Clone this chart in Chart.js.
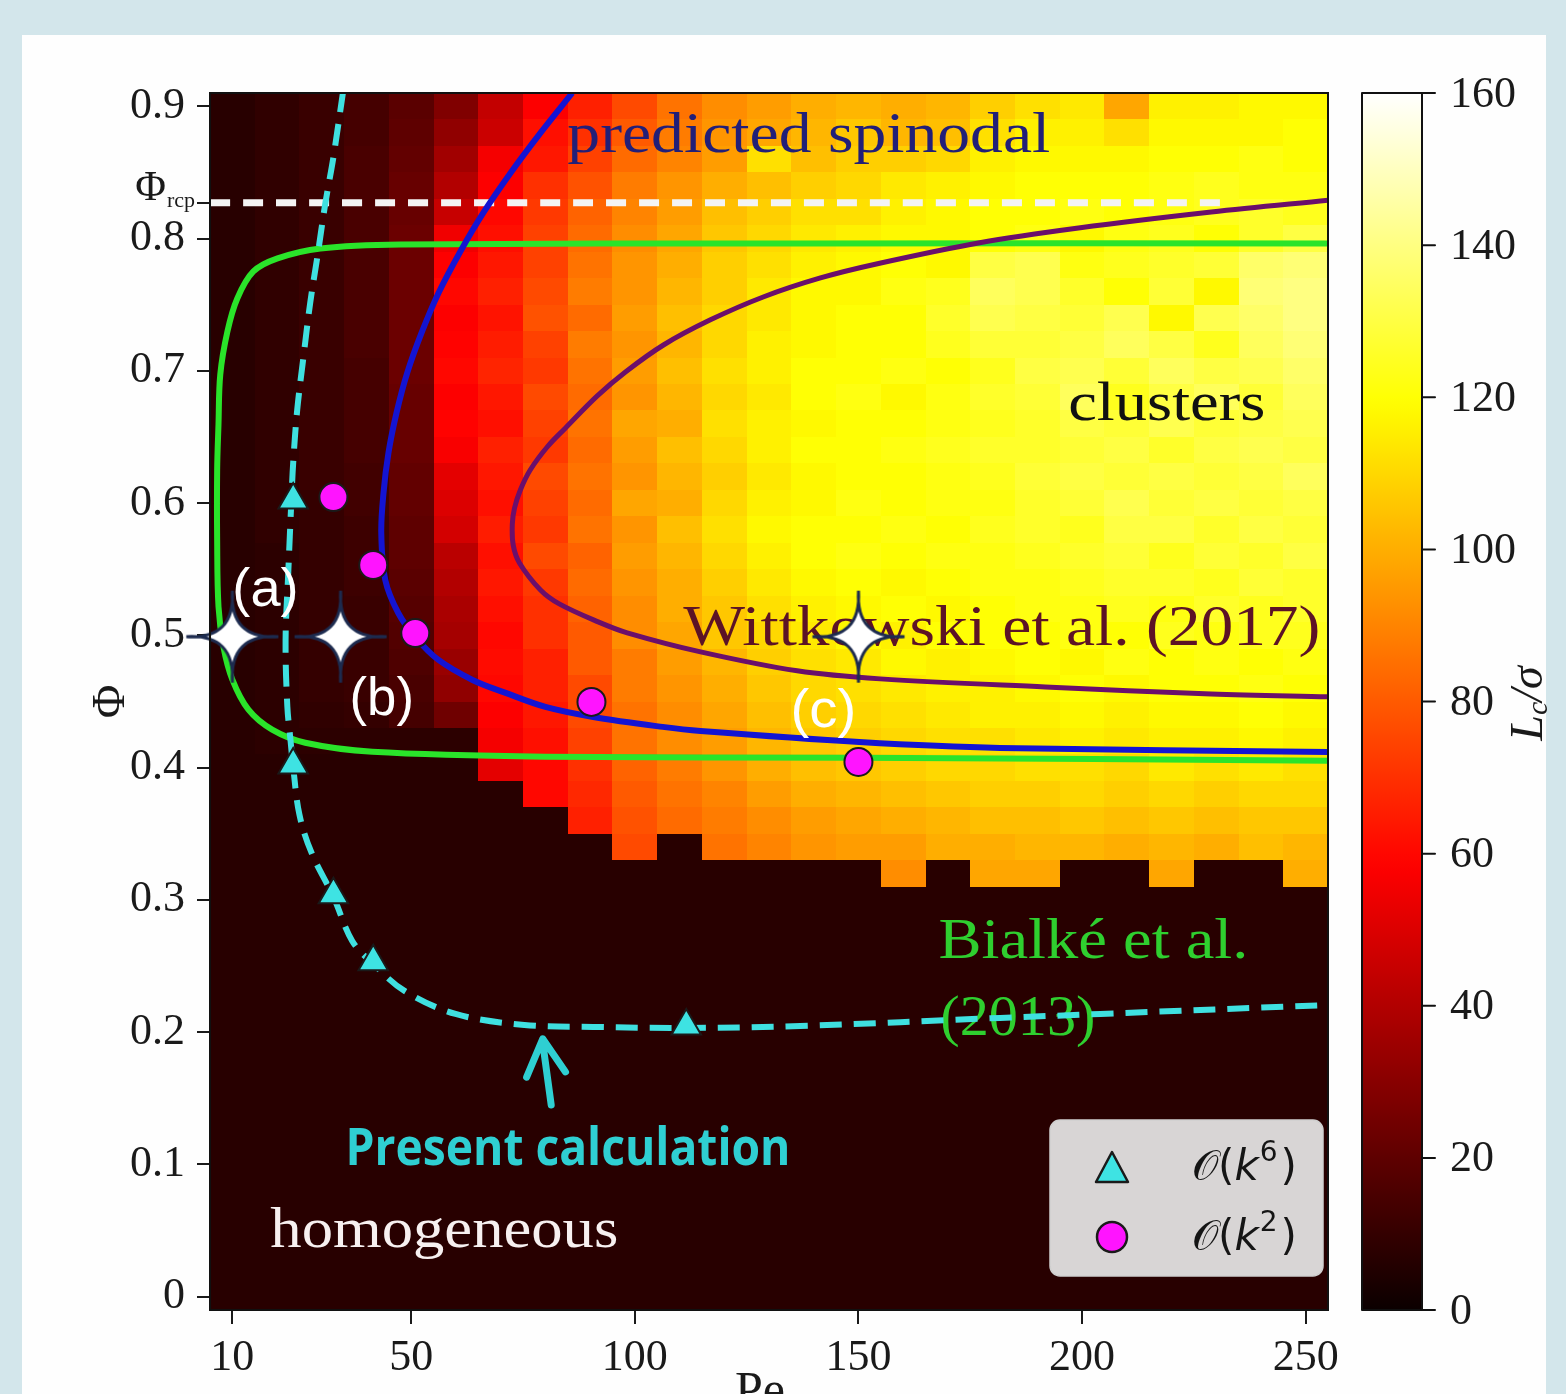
<!DOCTYPE html>
<html>
<head>
<meta charset="utf-8">
<script src="https://cdn.jsdelivr.net/npm/chart.js@4.4.1/dist/chart.umd.min.js"></script>
<style>
  html, body { margin: 0; padding: 0; background: #d3e6eb; overflow: hidden; }
  #card { position: absolute; left: 22px; top: 35px; width: 1524px; height: 1380px; background: #fefefe; }
  #phaseChart { position: absolute; left: 0; top: 0; }
</style>
</head>
<body>
<div id="card"></div>
<canvas id="phaseChart" width="1566" height="1394"></canvas>
<script>
// Axis ticks
const peTicks = [10, 50, 100, 150, 200, 250];
const phiTicks = [0, 0.1, 0.2, 0.3, 0.4, 0.5, 0.6, 0.7, 0.8, 0.9];
const lcTicks = [0, 20, 40, 60, 80, 100, 120, 140, 160];
const rcpPhi = 0.827;

// Heatmap grid: column centres (Pe), row centres (Phi, top to bottom), Lc/sigma values
const peCols = [10, 20, 30, 40, 50, 60, 70, 80, 90, 100, 110, 120, 130, 140, 150, 160, 170, 180, 190, 200, 210, 220, 230, 240, 250];
const phiRows = [0.90, 0.88, 0.86, 0.84, 0.82, 0.80, 0.78, 0.76, 0.74, 0.72, 0.70, 0.68, 0.66, 0.64, 0.62, 0.60,
                 0.58, 0.56, 0.54, 0.52, 0.50, 0.48, 0.46, 0.44, 0.42, 0.40, 0.38, 0.36, 0.34, 0.32, 0.30, 0.28,
                 0.26, 0.24, 0.22, 0.20, 0.18, 0.16, 0.14, 0.12, 0.10, 0.08, 0.06, 0.04, 0.02, 0.00];
const lcRows = [
  [7, 9, 11, 14, 19, 28, 44, 58, 66, 76, 86, 92, 96, 100, 102, 100, 102, 108, 112, 114, 98, 116, 116, 118, 118],
  [7, 9, 11, 14, 20, 32, 46, 62, 70, 80, 88, 94, 98, 102, 106, 102, 104, 112, 116, 116, 112, 118, 118, 118, 120],
  [7, 9, 11, 15, 21, 36, 56, 64, 74, 84, 90, 96, 112, 104, 108, 108, 110, 116, 118, 118, 118, 120, 120, 122, 120],
  [7, 9, 11, 15, 22, 40, 58, 70, 78, 88, 94, 100, 104, 108, 110, 114, 116, 118, 120, 120, 120, 122, 124, 122, 122],
  [7, 9, 11, 15, 22, 45, 60, 72, 82, 90, 96, 104, 108, 112, 112, 116, 118, 120, 120, 122, 120, 122, 124, 126, 124],
  [7, 9, 11, 15, 23, 55, 62, 74, 84, 92, 98, 106, 110, 114, 116, 118, 118, 120, 122, 118, 122, 124, 120, 126, 130],
  [7, 9, 11, 15, 23, 58, 64, 74, 86, 94, 100, 108, 112, 116, 118, 120, 118, 130, 132, 122, 124, 126, 128, 136, 138],
  [7, 9, 11, 15, 23, 60, 66, 76, 88, 94, 102, 108, 114, 118, 118, 122, 124, 134, 132, 126, 120, 128, 118, 138, 140],
  [7, 9, 11, 15, 23, 58, 63, 78, 84, 96, 104, 110, 114, 118, 120, 120, 126, 132, 130, 128, 132, 118, 132, 136, 140],
  [7, 9, 11, 15, 23, 59, 65, 74, 88, 94, 102, 110, 116, 118, 120, 120, 124, 128, 128, 130, 134, 130, 124, 134, 138],
  [7, 9, 11, 14, 23, 60, 67, 72, 86, 96, 104, 112, 116, 120, 120, 122, 120, 124, 130, 132, 128, 134, 130, 132, 136],
  [7, 9, 11, 14, 22, 58, 64, 76, 84, 94, 102, 110, 114, 120, 122, 118, 122, 126, 128, 134, 124, 130, 134, 128, 134],
  [7, 9, 11, 14, 22, 59, 62, 74, 86, 98, 100, 112, 116, 118, 120, 120, 122, 124, 126, 130, 128, 132, 128, 130, 132],
  [7, 9, 11, 14, 22, 57, 66, 72, 84, 96, 104, 110, 116, 120, 120, 122, 124, 126, 126, 128, 130, 126, 130, 132, 130],
  [7, 9, 11, 13, 21, 52, 64, 76, 86, 94, 102, 108, 114, 118, 120, 120, 122, 124, 128, 130, 128, 130, 128, 130, 134],
  [7, 9, 10, 13, 21, 50, 62, 74, 84, 98, 100, 110, 116, 118, 122, 120, 122, 122, 126, 128, 132, 128, 130, 128, 130],
  [7, 9, 10, 12, 20, 48, 65, 72, 86, 94, 104, 112, 118, 120, 120, 122, 120, 124, 126, 124, 130, 130, 126, 130, 128],
  [7, 8, 10, 12, 20, 42, 62, 76, 82, 96, 102, 110, 116, 120, 122, 120, 122, 122, 124, 126, 128, 124, 128, 126, 130],
  [7, 8, 10, 12, 19, 40, 64, 72, 84, 94, 100, 108, 114, 118, 120, 118, 120, 122, 122, 124, 126, 126, 124, 128, 126],
  [7, 8, 10, 11, 18, 38, 62, 70, 82, 92, 100, 106, 112, 116, 118, 120, 118, 120, 122, 122, 124, 122, 126, 124, 126],
  [7, 8, 10, 11, 17, 37, 60, 70, 80, 92, 98, 106, 110, 114, 118, 116, 120, 120, 120, 122, 120, 124, 122, 124, 124],
  [7, 8, 10, 11, 16, 34, 61, 66, 80, 88, 96, 102, 108, 112, 114, 118, 116, 118, 120, 118, 122, 120, 122, 120, 122],
  [7, 8, 10, 11, 15, 32, 60, 66, 76, 88, 94, 100, 106, 110, 112, 114, 116, 116, 118, 120, 118, 120, 120, 122, 120],
  [7, 8, 9, 10, 14, 24, 58, 64, 76, 86, 92, 98, 104, 108, 110, 112, 114, 116, 116, 118, 116, 118, 118, 120, 118],
  [7, 8, 8, 8, 8, 8, 56, 62, 74, 86, 92, 96, 102, 106, 108, 110, 112, 112, 114, 116, 114, 116, 116, 118, 116],
  [7, 7, 7, 7, 7, 7, 52, 60, 70, 82, 88, 94, 100, 104, 106, 108, 110, 110, 112, 112, 110, 114, 112, 114, 112],
  [7, 7, 7, 7, 7, 7, 7, 60, 68, 80, 86, 90, 96, 100, 102, 104, 106, 108, 108, 110, 108, 110, 108, 110, 110],
  [7, 7, 7, 7, 7, 7, 7, 7, 66, 78, 84, 88, 92, 96, 98, 100, 102, 104, 104, 106, 104, 106, 104, 106, 106],
  [7, 7, 7, 7, 7, 7, 7, 7, 7, 76, 7, 86, 90, 94, 96, 96, 100, 100, 102, 102, 100, 102, 100, 104, 102],
  [7, 7, 7, 7, 7, 7, 7, 7, 7, 7, 7, 7, 7, 7, 7, 92, 7, 98, 98, 7, 7, 98, 7, 7, 100],
  [7, 7, 7, 7, 7, 7, 7, 7, 7, 7, 7, 7, 7, 7, 7, 7, 7, 7, 7, 7, 7, 7, 7, 7, 7],
  [7, 7, 7, 7, 7, 7, 7, 7, 7, 7, 7, 7, 7, 7, 7, 7, 7, 7, 7, 7, 7, 7, 7, 7, 7],
  [7, 7, 7, 7, 7, 7, 7, 7, 7, 7, 7, 7, 7, 7, 7, 7, 7, 7, 7, 7, 7, 7, 7, 7, 7],
  [7, 7, 7, 7, 7, 7, 7, 7, 7, 7, 7, 7, 7, 7, 7, 7, 7, 7, 7, 7, 7, 7, 7, 7, 7],
  [7, 7, 7, 7, 7, 7, 7, 7, 7, 7, 7, 7, 7, 7, 7, 7, 7, 7, 7, 7, 7, 7, 7, 7, 7],
  [7, 7, 7, 7, 7, 7, 7, 7, 7, 7, 7, 7, 7, 7, 7, 7, 7, 7, 7, 7, 7, 7, 7, 7, 7],
  [7, 7, 7, 7, 7, 7, 7, 7, 7, 7, 7, 7, 7, 7, 7, 7, 7, 7, 7, 7, 7, 7, 7, 7, 7],
  [7, 7, 7, 7, 7, 7, 7, 7, 7, 7, 7, 7, 7, 7, 7, 7, 7, 7, 7, 7, 7, 7, 7, 7, 7],
  [7, 7, 7, 7, 7, 7, 7, 7, 7, 7, 7, 7, 7, 7, 7, 7, 7, 7, 7, 7, 7, 7, 7, 7, 7],
  [7, 7, 7, 7, 7, 7, 7, 7, 7, 7, 7, 7, 7, 7, 7, 7, 7, 7, 7, 7, 7, 7, 7, 7, 7],
  [7, 7, 7, 7, 7, 7, 7, 7, 7, 7, 7, 7, 7, 7, 7, 7, 7, 7, 7, 7, 7, 7, 7, 7, 7],
  [7, 7, 7, 7, 7, 7, 7, 7, 7, 7, 7, 7, 7, 7, 7, 7, 7, 7, 7, 7, 7, 7, 7, 7, 7],
  [7, 7, 7, 7, 7, 7, 7, 7, 7, 7, 7, 7, 7, 7, 7, 7, 7, 7, 7, 7, 7, 7, 7, 7, 7],
  [7, 7, 7, 7, 7, 7, 7, 7, 7, 7, 7, 7, 7, 7, 7, 7, 7, 7, 7, 7, 7, 7, 7, 7, 7],
  [7, 7, 7, 7, 7, 7, 7, 7, 7, 7, 7, 7, 7, 7, 7, 7, 7, 7, 7, 7, 7, 7, 7, 7, 7],
  [7, 7, 7, 7, 7, 7, 7, 7, 7, 7, 7, 7, 7, 7, 7, 7, 7, 7, 7, 7, 7, 7, 7, 7, 7]
];

// Curves (Pe, Phi)
const bialkePe  = [255.1, 137.0, 47.6, 29.7, 20.1, 14.7, 11.1, 8.9, 7.3, 6.9, 6.6, 6.6, 6.9, 8.0, 10.0, 13.6, 18.9, 26.3, 41.3, 80.0, 150.2, 255.1];
const bialkePhi = [0.7963, 0.7963, 0.7955, 0.7925, 0.7850, 0.7751, 0.7547, 0.7298, 0.6973, 0.6595, 0.6250, 0.5720, 0.5217, 0.4914, 0.4665, 0.4438, 0.4287, 0.4188, 0.4120, 0.4083, 0.4075, 0.4053];
const spinPe  = [86.0, 78.9, 72.2, 66.1, 60.8, 56.1, 52.3, 49.1, 46.7, 44.9, 43.8, 43.3, 44.2, 47.1, 50.9, 56.1, 63.7, 71.1, 80.0, 90.7, 106.2, 114.7, 150.2, 181.7, 255.1];
const spinPhi = [0.9100, 0.8798, 0.8495, 0.8193, 0.7891, 0.7588, 0.7286, 0.6984, 0.6681, 0.6379, 0.6077, 0.5774, 0.5418, 0.5169, 0.4987, 0.4814, 0.4663, 0.4565, 0.4459, 0.4383, 0.4308, 0.4277, 0.4194, 0.4149, 0.4118];
const wittPe  = [255.5, 228.9, 199.2, 176.8, 154.5, 141.5, 128.7, 116.9, 106.4, 97.9, 91.6, 84.5, 80.4, 76.6, 74.4, 73.1, 72.6, 72.8, 74.2, 78.9, 83.1, 91.8, 98.3, 114.7, 136.3, 154.9, 191.8, 228.9, 255.5];
const wittPhi = [0.8291, 0.8200, 0.8079, 0.7966, 0.7811, 0.7702, 0.7558, 0.7385, 0.7195, 0.6991, 0.6810, 0.6568, 0.6424, 0.6250, 0.6099, 0.5963, 0.5842, 0.5683, 0.5547, 0.5343, 0.5238, 0.5102, 0.5019, 0.4875, 0.4732, 0.4671, 0.4610, 0.4557, 0.4535];
const presPe  = [34.8, 32.6, 30.8, 29.0, 27.4, 25.9, 24.5, 23.6, 23.2, 22.5, 21.9, 22.3, 23.0, 23.6, 25.0, 27.7, 32.6, 36.8, 41.5, 48.5, 59.9, 75.3, 90.7, 111.5, 137.0, 181.7, 204.1, 255.1];
const presPhi = [0.912, 0.8616, 0.8268, 0.7860, 0.7512, 0.7104, 0.6703, 0.6303, 0.6023, 0.5472, 0.4965, 0.4459, 0.4209, 0.4005, 0.3644, 0.3357, 0.3024, 0.2690, 0.2516, 0.2312, 0.2138, 0.2055, 0.2040, 0.2032, 0.2047, 0.2108, 0.2138, 0.2206];
const rcpPe = [5, 233];

// Markers
const triPe  = [23.6, 23.6, 32.6, 41.5, 111.5];
const triPhi = [0.6023, 0.4020, 0.3039, 0.2532, 0.2047];
const circPe  = [32.6, 41.5, 50.9, 90.3, 150.0];
const circPhi = [0.6045, 0.5532, 0.5017, 0.4497, 0.4043];
const starPe  = [10, 34.2, 150];
const starPhi = [0.499, 0.499, 0.499];
const starLabels = ['(a)', '(b)', '(c)'];

const pts = (xs, ys) => xs.map((v, i) => ({ x: v, y: ys[i] }));

// matplotlib "hot"
function hotColor(t) {
  t = Math.max(0, Math.min(1, t));
  const r = Math.min(1, 0.0416 + t / 0.365079 * (1 - 0.0416));
  const g = Math.max(0, Math.min(1, (t - 0.365079) / (0.746032 - 0.365079)));
  const b = Math.max(0, Math.min(1, (t - 0.746032) / (1 - 0.746032)));
  return `rgb(${Math.round(r * 255)},${Math.round(g * 255)},${Math.round(b * 255)})`;
}

// four-pointed star marker
const starImg = document.createElement('canvas');
starImg.width = 100; starImg.height = 100;
(() => {
  const s = starImg.getContext('2d');
  const c = 50, R = 46, k = -3;
  s.beginPath();
  s.moveTo(c + R, c);
  s.quadraticCurveTo(c + k, c + k, c, c + R);
  s.quadraticCurveTo(c - k, c + k, c - R, c);
  s.quadraticCurveTo(c - k, c - k, c, c - R);
  s.quadraticCurveTo(c + k, c - k, c + R, c);
  s.closePath();
  s.fillStyle = '#ffffff';
  s.fill();
  s.lineWidth = 3;
  s.strokeStyle = '#1d2b4f';
  s.stroke();
})();

const serif = '"Liberation Serif", "DejaVu Serif", serif';

// text annotations: left/right edges in Pe, baseline in Phi
const notes = [
  { text: 'predicted spinodal', pe: 84.9, peEnd: 192.9, phi: 0.8654, size: 58, color: '#221f78' },
  { text: 'clusters', pe: 196.9, peEnd: 241.0, phi: 0.6628, size: 54, color: '#111111' },
  { text: 'Wittkowski et al. (2017)', pe: 110.8, peEnd: 253.3, phi: 0.4927, size: 56, color: '#5c1326' },
  { text: 'Bialké et al.', pe: 167.9, peEnd: 237.2, phi: 0.2562, size: 56, color: '#2fcf2f' },
  { text: '(2013)', pe: 168.3, peEnd: 203.0, phi: 0.1979, size: 56, color: '#2fcf2f' },
  { text: 'homogeneous', pe: 18.5, peEnd: 96.3, phi: 0.0376, size: 56, color: '#f7f0f0' }
];

function fitText(ctx, text, x0, x1, yb, font, color) {
  ctx.font = font;
  const w = ctx.measureText(text).width;
  ctx.save();
  ctx.translate(x0, yb);
  ctx.scale((x1 - x0) / w, 1);
  ctx.fillStyle = color;
  ctx.textAlign = 'left';
  ctx.textBaseline = 'alphabetic';
  ctx.fillText(text, 0, 0);
  ctx.restore();
}

const heatmapPlugin = {
  id: 'heatmap',
  beforeDatasetsDraw(chart) {
    const { ctx, scales: { x, y } } = chart;
    ctx.save();
    lcRows.forEach((row, j) => {
      const phi = phiRows[j];
      const y0 = Math.round(y.getPixelForValue(phi + 0.01));
      const y1 = Math.round(y.getPixelForValue(phi - 0.01));
      row.forEach((v, i) => {
        const x0 = Math.round(x.getPixelForValue(peCols[i] - 5));
        const x1 = Math.round(x.getPixelForValue(peCols[i] + 5));
        ctx.fillStyle = hotColor(v / 160);
        ctx.fillRect(x0, y0, x1 - x0, y1 - y0);
      });
    });
    notes.forEach(n => {
      fitText(ctx, n.text, x.getPixelForValue(n.pe), x.getPixelForValue(n.peEnd),
        y.getPixelForValue(n.phi), `${n.size}px ${serif}`, n.color);
    });
    ctx.restore();
  }
};

function drawOrderLabel(ctx, x0, yb, power) {
  ctx.fillStyle = '#151515';
  ctx.textAlign = 'left';
  ctx.textBaseline = 'alphabetic';
  let cx = x0;
  ctx.font = '42px "DejaVu Sans"';
  ctx.fillText('𝒪(', cx, yb); cx += ctx.measureText('𝒪(').width;
  ctx.font = 'oblique 42px "DejaVu Sans"';
  ctx.fillText('k', cx, yb); cx += ctx.measureText('k').width + 1;
  ctx.font = '28px "DejaVu Sans"';
  ctx.fillText(power, cx, yb - 19); cx += ctx.measureText(power).width + 3;
  ctx.font = '42px "DejaVu Sans"';
  ctx.fillText(')', cx, yb);
}

const overlayPlugin = {
  id: 'overlay',
  afterDatasetsDraw(chart) {
    const { ctx, chartArea: a, scales: { x, y, lc } } = chart;
    ctx.save();

    // plot frame
    ctx.strokeStyle = '#111';
    ctx.lineWidth = 2;
    ctx.strokeRect(a.left, a.top, a.right - a.left, a.bottom - a.top);

    // star labels
    const lblPos = [[10, 24.8, 0.522], [36.2, 50.6, 0.4398], [134.8, 149.5, 0.4311]];
    starLabels.forEach((t, i) => {
      const p = lblPos[i];
      fitText(ctx, t, x.getPixelForValue(p[0]), x.getPixelForValue(p[1]), y.getPixelForValue(p[2]),
        '54px "Liberation Sans", Arial, sans-serif', '#ffffff');
    });

    // "Present calculation" and arrow
    fitText(ctx, 'Present calculation', x.getPixelForValue(35.3), x.getPixelForValue(134.8), y.getPixelForValue(0.0997),
      'bold 52px "Open Sans", "Noto Sans", sans-serif', '#2fcfd2');
    ctx.strokeStyle = '#2fcfd2';
    ctx.lineWidth = 7;
    ctx.lineCap = 'round';
    ctx.lineJoin = 'round';
    ctx.beginPath();
    ctx.moveTo(x.getPixelForValue(81.3), y.getPixelForValue(0.145));
    ctx.lineTo(x.getPixelForValue(79.4), y.getPixelForValue(0.192));
    ctx.moveTo(x.getPixelForValue(75.8), y.getPixelForValue(0.166));
    ctx.lineTo(x.getPixelForValue(79.4), y.getPixelForValue(0.195));
    ctx.lineTo(x.getPixelForValue(84.5), y.getPixelForValue(0.170));
    ctx.stroke();

    // y tick label for Phi_rcp
    const yr = y.getPixelForValue(rcpPhi);
    ctx.fillStyle = '#1a1a1a';
    ctx.textAlign = 'right';
    ctx.textBaseline = 'alphabetic';
    ctx.font = `22px ${serif}`;
    ctx.fillText('rcp', 195, yr + 4);
    const wr = ctx.measureText('rcp').width;
    ctx.font = `42px ${serif}`;
    ctx.fillText('Φ', 195 - wr - 1, yr - 3);

    // axis titles
    ctx.save();
    ctx.translate(112, y.getPixelForValue(0.45));
    ctx.rotate(-Math.PI / 2);
    ctx.textAlign = 'center';
    ctx.textBaseline = 'middle';
    ctx.font = `46px ${serif}`;
    ctx.fillText('Φ', 0, 0);
    ctx.restore();
    ctx.textAlign = 'center';
    ctx.textBaseline = 'alphabetic';
    ctx.font = `50px ${serif}`;
    ctx.fillText('Pe', x.getPixelForValue(128), 1406);

    // legend
    const lx = a.right - 278, ly = a.bottom - 190, lw = 273, lh = 156;
    ctx.beginPath();
    ctx.roundRect(lx, ly, lw, lh, 10);
    ctx.fillStyle = 'rgba(222,220,220,0.97)';
    ctx.fill();
    ctx.strokeStyle = '#cfcfcf';
    ctx.lineWidth = 1.5;
    ctx.stroke();
    ctx.lineWidth = 2.5;
    ctx.strokeStyle = '#1a1a1a';
    ctx.fillStyle = '#3ee3e3';
    const tx = lx + 62, ty = ly + 49;
    ctx.beginPath();
    ctx.moveTo(tx, ty - 17);
    ctx.lineTo(tx + 16, ty + 13);
    ctx.lineTo(tx - 16, ty + 13);
    ctx.closePath();
    ctx.fill();
    ctx.stroke();
    ctx.fillStyle = '#ff14ff';
    ctx.beginPath();
    ctx.arc(tx, ly + 117, 15, 0, Math.PI * 2);
    ctx.fill();
    ctx.stroke();
    drawOrderLabel(ctx, lx + 142, ly + 60, '6');
    drawOrderLabel(ctx, lx + 142, ly + 130, '2');

    // colorbar
    const cbL = a.right + 34, cbW = 60;
    const cTop = lc.getPixelForValue(160), cBot = lc.getPixelForValue(0);
    const grad = ctx.createLinearGradient(0, cBot, 0, cTop);
    for (let s = 0; s <= 64; s++) grad.addColorStop(s / 64, hotColor(s / 64));
    ctx.fillStyle = grad;
    ctx.fillRect(cbL, cTop, cbW, cBot - cTop);
    ctx.strokeStyle = '#111';
    ctx.lineWidth = 2;
    ctx.strokeRect(cbL, cTop, cbW, cBot - cTop);
    ctx.fillStyle = '#1a1a1a';
    ctx.textAlign = 'left';
    ctx.textBaseline = 'middle';
    ctx.font = `44px ${serif}`;
    lcTicks.forEach(v => {
      const py = lc.getPixelForValue(v);
      ctx.beginPath();
      ctx.moveTo(cbL + cbW, py);
      ctx.lineTo(cbL + cbW + 13, py);
      ctx.stroke();
      ctx.fillText(String(v), cbL + cbW + 28, py + 2);
    });

    // colorbar label L_c / sigma
    ctx.save();
    ctx.translate(1530, lc.getPixelForValue(80) + 2);
    ctx.rotate(-Math.PI / 2);
    ctx.textBaseline = 'middle';
    ctx.textAlign = 'left';
    const parts = [['L', `italic 46px ${serif}`, 0], ['c', `italic 30px ${serif}`, 9], ['/σ', `italic 46px ${serif}`, 0]];
    let total = 0;
    parts.forEach(p => { ctx.font = p[1]; total += ctx.measureText(p[0]).width; });
    let cx = -total / 2;
    parts.forEach(p => {
      ctx.font = p[1];
      ctx.fillText(p[0], cx, p[2]);
      cx += ctx.measureText(p[0]).width;
    });
    ctx.restore();

    ctx.restore();
  }
};

const lineDs = (xs, ys, color, width, dash, order) => ({
  data: pts(xs, ys), showLine: true, borderColor: color, borderWidth: width, borderDash: dash,
  pointRadius: 0, tension: 0.35, fill: false, order: order
});

const ctx = document.getElementById('phaseChart').getContext('2d');
const phaseChart = new Chart(ctx, {
  type: 'scatter',
  data: {
    datasets: [
      { data: pts(starPe, starPhi), pointStyle: starImg, pointRadius: 46, clip: false, order: 0 },
      { data: pts(circPe, circPhi), pointStyle: 'circle', pointRadius: 14, backgroundColor: '#ff14ff',
        borderColor: '#1a1a1a', borderWidth: 2, order: 1 },
      { data: pts(triPe, triPhi), pointStyle: 'triangle', pointRadius: 17, backgroundColor: '#3ee3e3',
        borderColor: '#1a1a1a', borderWidth: 2, order: 2 },
      lineDs(presPe, presPhi, '#3fe0e0', 6, [22, 12], 3),
      lineDs(spinPe, spinPhi, '#1414d2', 6, [], 4),
      lineDs(wittPe, wittPhi, '#6b0f6b', 5, [], 5),
      lineDs(bialkePe, bialkePhi, '#2ae42a', 6, [], 6),
      lineDs(rcpPe, [rcpPhi, rcpPhi], '#f4f4f4', 7, [20, 13], 7)
    ]
  },
  options: {
    responsive: false,
    animation: false,
    devicePixelRatio: 1,
    events: [],
    layout: { padding: { left: 0, top: 93, right: 238, bottom: 0 } },
    plugins: { legend: { display: false }, tooltip: { enabled: false } },
    scales: {
      x: {
        type: 'linear', min: 5, max: 255,
        afterFit: s => { s.height = 84; },
        afterBuildTicks: s => { s.ticks = peTicks.map(v => ({ value: v })); },
        grid: { drawOnChartArea: false, tickLength: 14, color: '#1a1a1a', lineWidth: 2 },
        border: { display: false },
        ticks: { font: { family: serif, size: 44 }, color: '#1a1a1a', padding: 8, maxRotation: 0, autoSkip: false }
      },
      y: {
        type: 'linear', min: -0.01, max: 0.91,
        afterFit: s => { s.width = 210; },
        afterBuildTicks: s => { s.ticks = phiTicks.concat([rcpPhi]).map(v => ({ value: v })); },
        grid: { drawOnChartArea: false, tickLength: 13, color: '#1a1a1a', lineWidth: 2 },
        border: { display: false },
        ticks: {
          font: { family: serif, size: 44 }, color: '#1a1a1a', padding: 12, autoSkip: false,
          callback: v => v === rcpPhi ? '' : (v === 0 ? '0' : v.toFixed(1))
        }
      },
      lc: { type: 'linear', position: 'right', min: 0, max: 160, display: false }
    }
  },
  plugins: [heatmapPlugin, overlayPlugin]
});
</script>
</body>
</html>
